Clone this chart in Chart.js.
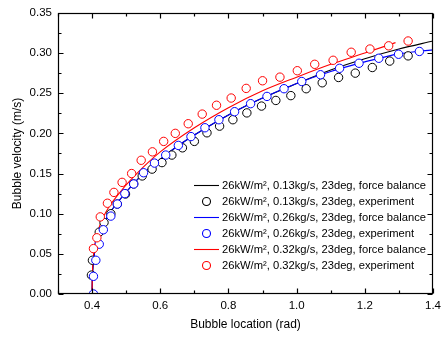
<!DOCTYPE html>
<html>
<head>
<meta charset="utf-8">
<script src="https://cdn.jsdelivr.net/npm/chart.js@4.4.1/dist/chart.umd.min.js"></script>
<style>
  body { margin: 0; background: #fff; }
  #wrap { width: 446px; height: 338px; }
</style>
</head>
<body>
<div id="wrap"><canvas id="myChart" width="446" height="338"></canvas></div>
<script>
// force balance curves
const fbX13 = [0.400, 0.4005, 0.402, 0.405, 0.41, 0.42, 0.43, 0.45, 0.475, 0.5, 0.55, 0.6, 0.65, 0.7, 0.8, 0.9, 1.0, 1.1, 1.2, 1.3, 1.4];
const fbY13 = [0, 0.015, 0.030, 0.045, 0.058, 0.073, 0.084, 0.100, 0.114, 0.127, 0.150, 0.168, 0.184, 0.198, 0.223, 0.244, 0.262, 0.279, 0.293, 0.305, 0.315];
const fbX26 = [0.400, 0.4005, 0.402, 0.405, 0.41, 0.42, 0.43, 0.45, 0.475, 0.5, 0.55, 0.6, 0.65, 0.7, 0.8, 0.9, 1.0, 1.1, 1.2, 1.3, 1.4];
const fbY26 = [0, 0.015, 0.030, 0.045, 0.058, 0.073, 0.084, 0.100, 0.114, 0.127, 0.150, 0.168, 0.184, 0.198, 0.223, 0.244, 0.262, 0.277, 0.289, 0.299, 0.304];
const fbX32 = [0.400, 0.4005, 0.402, 0.405, 0.41, 0.42, 0.43, 0.45, 0.475, 0.5, 0.55, 0.6, 0.7, 0.8, 0.9, 1.0, 1.1, 1.2, 1.29];
const fbY32 = [0, 0.018, 0.036, 0.052, 0.066, 0.082, 0.093, 0.109, 0.123, 0.136, 0.158, 0.177, 0.207, 0.232, 0.253, 0.270, 0.286, 0.300, 0.313];

// experiment points
const exX13 = [0.398, 0.401, 0.421, 0.435, 0.455, 0.474, 0.498, 0.522, 0.547, 0.576, 0.605, 0.634, 0.665, 0.700, 0.737, 0.774, 0.813, 0.854, 0.897, 0.939, 0.983, 1.028, 1.075, 1.123, 1.172, 1.222, 1.273, 1.327];
const exY13 = [0.0235, 0.042, 0.077, 0.089, 0.100, 0.112, 0.1245, 0.137, 0.147, 0.1555, 0.1636, 0.173, 0.182, 0.190, 0.2007, 0.209, 0.217, 0.2255, 0.234, 0.241, 0.247, 0.2556, 0.263, 0.2696, 0.275, 0.282, 0.290, 0.2965];
const exX26 = [0.404, 0.404, 0.411, 0.421, 0.433, 0.455, 0.474, 0.496, 0.522, 0.551, 0.583, 0.616, 0.653, 0.690, 0.731, 0.772, 0.818, 0.865, 0.913, 0.963, 1.015, 1.070, 1.126, 1.183, 1.241, 1.299, 1.360];
const exY26 = [0.0, 0.022, 0.042, 0.062, 0.080, 0.097, 0.112, 0.125, 0.137, 0.151, 0.163, 0.173, 0.185, 0.196, 0.207, 0.217, 0.227, 0.237, 0.246, 0.2556, 0.2646, 0.273, 0.281, 0.2873, 0.2935, 0.2985, 0.302];
const exX32 = [0.404, 0.414, 0.424, 0.445, 0.464, 0.488, 0.516, 0.544, 0.577, 0.610, 0.644, 0.682, 0.723, 0.765, 0.808, 0.852, 0.900, 0.951, 1.002, 1.053, 1.107, 1.160, 1.215, 1.270, 1.327];
const exY32 = [0.0565, 0.070, 0.096, 0.113, 0.1265, 0.139, 0.150, 0.1665, 0.177, 0.190, 0.200, 0.212, 0.224, 0.235, 0.244, 0.256, 0.2655, 0.270, 0.278, 0.286, 0.291, 0.301, 0.305, 0.309, 0.315];

const legendLabels = [
  "26kW/m\u00B2, 0.13kg/s, 23deg, force balance",
  "26kW/m\u00B2, 0.13kg/s, 23deg, experiment",
  "26kW/m\u00B2, 0.26kg/s, 23deg, force balance",
  "26kW/m\u00B2, 0.26kg/s, 23deg, experiment",
  "26kW/m\u00B2, 0.32kg/s, 23deg, force balance",
  "26kW/m\u00B2, 0.32kg/s, 23deg, experiment"
];
const seriesColors = ['#000000', '#000000', '#0000ff', '#0000ff', '#ff0000', '#ff0000'];

// tick positions
const xTickLabels = [0.4, 0.6, 0.8, 1.0, 1.2, 1.4];
const xMinorTicks = [0.3, 0.5, 0.7, 0.9, 1.1, 1.3];
const yTickLabels = [0, 0.05, 0.10, 0.15, 0.20, 0.25, 0.30, 0.35];
const yMinorTicks = [0.025, 0.075, 0.125, 0.175, 0.225, 0.275, 0.325];

const FONT = "'Liberation Sans', Arial, sans-serif";

function pts(xs, ys) {
  return xs.map((x, i) => ({ x: x, y: ys[i] }));
}

function lineSet(i, xs, ys, order) {
  return {
    label: legendLabels[i],
    data: pts(xs, ys),
    showLine: true,
    borderColor: seriesColors[i],
    borderWidth: 1.1,
    pointRadius: 0,
    cubicInterpolationMode: 'monotone',
    fill: false,
    order: order
  };
}

function dotSet(i, xs, ys, order) {
  return {
    label: legendLabels[i],
    data: pts(xs, ys),
    showLine: false,
    borderColor: seriesColors[i],
    backgroundColor: '#fff',
    borderWidth: 1,
    pointRadius: 4.2,
    pointStyle: 'circle',
    order: order
  };
}

// box frame with inward ticks on all sides
const framePlugin = {
  id: 'frame',
  afterDatasetsDraw(chart) {
    const c = chart.ctx;
    const a = chart.chartArea;
    const xs = chart.scales.x, ys = chart.scales.y;
    const L = Math.round(a.left) + 0.5, R = Math.round(a.right) - 0.5;
    const T = Math.round(a.top) + 0.5, B = Math.round(a.bottom) - 0.5;
    c.save();
    c.strokeStyle = '#000';
    c.lineWidth = 1.2;
    c.strokeRect(L, T, R - L, B - T);
    c.beginPath();
    const tickX = (v, len) => {
      const p = Math.round(xs.getPixelForValue(v)) + 0.5;
      c.moveTo(p, B); c.lineTo(p, B - len);
      c.moveTo(p, T); c.lineTo(p, T + len);
    };
    const tickY = (v, len) => {
      const p = Math.round(ys.getPixelForValue(v)) + 0.5;
      c.moveTo(L, p); c.lineTo(L + len, p);
      c.moveTo(R, p); c.lineTo(R - len, p);
    };
    xTickLabels.forEach(v => tickX(v, 5));
    xMinorTicks.forEach(v => tickX(v, 3));
    yTickLabels.forEach(v => tickY(v, 5));
    yMinorTicks.forEach(v => tickY(v, 3));
    c.stroke();
    c.restore();
  }
};

// legend inside the plot, bottom right
const legendPlugin = {
  id: 'boxLegend',
  afterDraw(chart) {
    const c = chart.ctx;
    const x0 = 194, x1 = 219, tx = 222;
    let y = 185.5;
    c.save();
    c.font = '11.2px ' + FONT;
    c.textBaseline = 'middle';
    chart.data.datasets.forEach((ds, i) => {
      c.strokeStyle = seriesColors[i];
      c.lineWidth = 1.1;
      c.beginPath();
      if (ds.showLine) {
        c.moveTo(x0, y); c.lineTo(x1, y);
      } else {
        c.arc((x0 + x1) / 2, y, 4, 0, Math.PI * 2);
      }
      c.stroke();
      c.fillStyle = '#000';
      c.fillText(ds.label, tx, y + 0.5);
      y += 16;
    });
    c.restore();
  }
};

const ctx = document.getElementById('myChart');

new Chart(ctx, {
  type: 'scatter',
  data: {
    datasets: [
      lineSet(0, fbX13, fbY13, 6),
      dotSet(1, exX13, exY13, 3),
      lineSet(2, fbX26, fbY26, 5),
      dotSet(3, exX26, exY26, 2),
      lineSet(4, fbX32, fbY32, 4),
      dotSet(5, exX32, exY32, 1)
    ]
  },
  options: {
    responsive: false,
    animation: false,
    layout: { padding: { left: 0, right: 7, top: 11, bottom: 0 } },
    plugins: {
      legend: { display: false },
      tooltip: { enabled: false }
    },
    scales: {
      x: {
        type: 'linear',
        min: 0.3,
        max: 1.4,
        afterBuildTicks: (s) => { s.ticks = xTickLabels.map(v => ({ value: v })); },
        afterFit: (s) => { s.height = 44; },
        grid: { display: false, drawTicks: false },
        border: { display: false },
        ticks: {
          padding: 5,
          color: '#000',
          font: { family: FONT, size: 11.5 },
          maxRotation: 0,
          callback: (v) => Number(v).toFixed(1)
        },
        title: {
          display: true,
          text: 'Bubble location (rad)',
          color: '#000',
          font: { family: FONT, size: 12 },
          padding: { top: 0, bottom: 6 }
        }
      },
      y: {
        type: 'linear',
        min: 0,
        max: 0.35,
        afterBuildTicks: (s) => { s.ticks = yTickLabels.map(v => ({ value: v })); },
        afterFit: (s) => { s.width = 58; },
        grid: { display: false, drawTicks: false },
        border: { display: false },
        ticks: {
          padding: 6,
          color: '#000',
          font: { family: FONT, size: 11.5 },
          callback: (v) => Number(v).toFixed(2)
        },
        title: {
          display: true,
          text: 'Bubble velocity (m/s)',
          color: '#000',
          font: { family: FONT, size: 12 },
          padding: { top: 10, bottom: 0 }
        }
      }
    }
  },
  plugins: [framePlugin, legendPlugin]
});
</script>
</body>
</html>
